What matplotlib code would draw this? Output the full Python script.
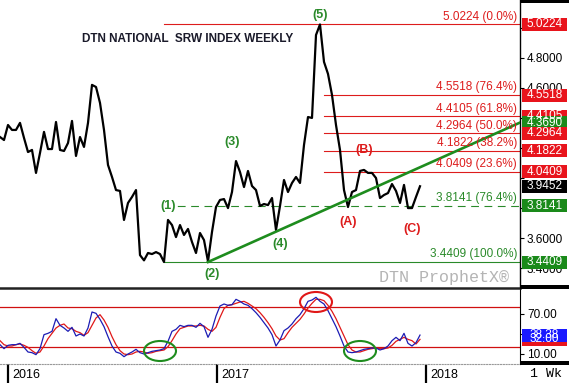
import matplotlib
matplotlib.use('Agg')
import matplotlib.pyplot as plt
import matplotlib.dates as mdates
from matplotlib.patches import Ellipse, Rectangle
import pandas as pd

plt.rcParams['font.family'] = ['Liberation Sans', 'DejaVu Sans']

# weekly close, DTN national SRW index
close = [4.273, 4.253, 4.353, 4.320, 4.320, 4.367, 4.267, 4.173, 4.187, 4.034,
         4.167, 4.307, 4.193, 4.193, 4.373, 4.187, 4.180, 4.233, 4.380, 4.147,
         4.273, 4.207, 4.367, 4.620, 4.606, 4.500, 4.320, 4.087, 4.007, 3.920,
         3.914, 3.721, 3.834, 3.874, 3.920, 3.487, 3.452, 3.501, 3.494, 3.507,
         3.494, 3.4409, 3.721, 3.687, 3.607, 3.687, 3.621, 3.661, 3.574, 3.501,
         3.634, 3.587, 3.445, 3.641, 3.807, 3.854, 3.860, 3.800, 3.907, 4.113,
         4.040, 3.940, 4.047, 3.947, 3.920, 3.814, 3.827, 3.820, 3.867, 3.654,
         3.814, 3.987, 3.907, 3.967, 4.007, 3.967, 4.220, 4.406, 4.400, 4.952,
         5.0224, 4.773, 4.693, 4.553, 4.353, 4.187, 3.920, 3.807, 3.907, 3.920,
         4.047, 4.054, 4.034, 4.034, 4.000, 3.867, 3.887, 3.900, 3.960, 3.914,
         3.834, 3.954, 3.800, 3.800, 3.874, 3.9452]

# stochastics %K (blue) and %D (red)
stoch_k = [24, 18, 23, 24, 24, 26, 20, 13, 12, 9,
           18, 39, 41, 44, 63, 53, 49, 44, 50, 37,
           40, 37, 49, 73, 71, 62, 51, 36, 22, 13,
           11, 6, 10, 13, 17, 12, 10, 12, 14, 15,
           16, 18, 29, 44, 47, 53, 51, 53, 53, 50,
           56, 51, 35, 47, 67, 82, 85, 83, 84, 92,
           89, 85, 83, 78, 72, 65, 57, 49, 39, 22,
           31, 45, 49, 55, 63, 69, 78, 89, 91, 95,
           89, 85, 75, 63, 51, 37, 22, 13, 12, 13,
           15, 17, 18, 19, 19, 16, 18, 22, 30, 35,
           30, 41, 26, 22, 27, 38.38]
stoch_d = [30, 24, 22, 22, 24, 25, 23, 20, 15, 11,
           13, 22, 33, 41, 49, 53, 55, 49, 48, 44,
           42, 38, 42, 53, 64, 69, 61, 50, 36, 24,
           15, 10, 9, 10, 13, 14, 13, 11, 12, 14,
           15, 16, 21, 30, 40, 48, 50, 52, 52, 52,
           53, 52, 47, 44, 50, 65, 78, 83, 84, 86,
           88, 89, 86, 82, 78, 72, 65, 57, 48, 37,
           31, 33, 42, 50, 56, 62, 70, 79, 86, 92,
           92, 90, 83, 74, 63, 50, 37, 24, 16, 13,
           13, 15, 17, 18, 19, 18, 18, 19, 23, 29,
           32, 35, 32, 30, 25, 32]

dates = mdates.date2num(pd.date_range('2015-12-18', periods=len(close), freq='W-FRI'))
x_end = mdates.date2num(pd.Timestamp('2018-06-15'))

fib_levels = [5.0224, 4.5518, 4.4105, 4.2964, 4.1822, 4.0409, 3.8141, 3.4409]
fib_labels = ['5.0224 (0.0%)', '4.5518 (76.4%)', '4.4105 (61.8%)', '4.2964 (50.0%)',
              '4.1822 (38.2%)', '4.0409 (23.6%)', '3.8141 (76.4%)', '3.4409 (100.0%)']
fib_start = ['2016-09-30', '2017-07-07', '2017-07-07', '2017-07-07',
             '2017-07-07', '2017-07-07', '2016-09-30', '2016-09-30']

trend_dates = ['2016-12-16', '2018-06-15']
trend_values = [3.4409, 4.3690]

wave_labels = ['(1)', '(2)', '(3)', '(4)', '(5)', '(A)', '(B)', '(C)']
wave_dates = ['2016-10-07', '2016-12-23', '2017-01-27', '2017-04-21',
              '2017-06-30', '2017-08-18', '2017-09-15', '2017-12-08']
wave_prices = [3.814, 3.36, 4.24, 3.56, 5.085, 3.705, 4.187, 3.66]

price_ticks = [3.4, 3.6, 3.8, 4.0, 4.2, 4.4, 4.6, 4.8, 5.0]
price_tick_shown = [3.4, 3.6, 4.6, 4.8]   # the rest sit under the value boxes
stoch_ticks = [10, 40, 70]
stoch_tick_shown = [10, 70]

year_ticks = ['2016-01-01', '2017-01-01', '2018-01-01']
year_labels = ['2016', '2017', '2018']

RED = '#dd1c1c'
GREEN = '#2a8a2a'


def dnum(s):
    return mdates.date2num(pd.Timestamp(s))


fig = plt.figure(figsize=(5.69, 3.83), dpi=100)
ax = fig.add_axes([0, 1 - 288 / 383, 520 / 569, 288 / 383])
ax2 = fig.add_axes([0, 1 - 364 / 383, 520 / 569, 76 / 383])

# ---- price panel
ax.plot(dates, close, color='black', lw=1.6, zorder=3)

for lvl, lab, st in zip(fib_levels, fib_labels, fib_start):
    col = GREEN if lvl < 3.9 else RED
    ls = (0, (7, 5)) if lab == '3.8141 (76.4%)' else '-'
    ax.plot([dnum(st), x_end], [lvl, lvl], color=col, lw=0.8, ls=ls, zorder=2)
    ax.annotate(lab, xy=(1, lvl), xycoords=ax.get_yaxis_transform(),
                xytext=(-2, 5.6), textcoords='offset points',
                ha='right', va='center', color=col, fontsize=8.5, zorder=4)

ax.plot([dnum(d) for d in trend_dates], trend_values, color='#1e8c1e', lw=1.9, zorder=3)

for lab, d, p in zip(wave_labels, wave_dates, wave_prices):
    col = RED if lab in ('(A)', '(B)', '(C)') else GREEN
    t = ax.text(dnum(d), p, lab, ha='center', va='center', color=col,
                fontsize=9, fontweight='bold', zorder=5)
    if lab == '(1)':
        t.set_bbox(dict(facecolor='white', edgecolor='none', pad=0.5))

ax.text(0.36, 0.865, 'DTN NATIONAL  SRW INDEX WEEKLY', transform=ax.transAxes,
        ha='center', va='center', fontsize=8.5, fontweight='bold', color='#1a1a2a')
ax.text(0.854, 0.035, 'DTN ProphetX\u00ae', transform=ax.transAxes, ha='center',
        va='center', fontsize=12, color='#b4b4b4', family=['Liberation Mono', 'DejaVu Sans Mono'])

ax.set_xlim(dates[0], x_end)
ax.set_ylim(3.268, 5.185)
ax.set_yticks(price_ticks)
ax.set_yticklabels(['%.4f' % v if v in price_tick_shown else '' for v in price_ticks])
ax.yaxis.tick_right()
ax.tick_params(axis='y', length=3, width=0.8, pad=2, labelsize=8.5)
ax.tick_params(axis='x', bottom=False, labelbottom=False)
for s in ('left', 'top', 'bottom'):
    ax.spines[s].set_visible(False)
ax.spines['right'].set_linewidth(1)

# right-hand value boxes
box_values = [5.0224, 4.5518, 4.4105, 4.3690, 4.2964, 4.1822, 4.0409, 3.9452, 3.8141, 3.4409]
box_colors = ['#e8141c', '#e8141c', '#e8141c', '#1a8a1a', '#e8141c', '#e8141c',
              '#e8141c', 'black', '#1a8a1a', '#1a8a1a']
tr = ax.get_yaxis_transform()
bh = 13 * (5.185 - 3.268) / 288
for v, c in zip(box_values, box_colors):
    ax.add_patch(Rectangle((1.003, v - bh / 2), 0.088, bh, transform=tr,
                           facecolor=c, edgecolor='none', clip_on=False, zorder=6))
    ax.text(1.047, v, '%.4f' % v, transform=tr, ha='center', va='center',
            color='white', fontsize=8.5, zorder=7, clip_on=False)

# ---- stochastic panel
ax2.plot(dates, stoch_d, color='#e01818', lw=0.9, zorder=3)
ax2.plot(dates, stoch_k, color='#1c1cb4', lw=0.9, zorder=3)
ax2.axhline(80, color='#d01010', lw=0.9, zorder=2)
ax2.axhline(20, color='#d01010', lw=0.9, zorder=2)

for d, v, c in [('2016-09-23', 14.5, '#1e8c1e'), ('2017-09-08', 14.5, '#1e8c1e'),
                ('2017-06-23', 88, '#e01818')]:
    ax2.add_patch(Ellipse((dnum(d), v), 56, 30,
                          fill=False, edgecolor=c, lw=1.5, zorder=4))

ax2.set_xlim(dates[0], x_end)
ax2.set_ylim(-5, 109)
ax2.set_yticks(stoch_ticks)
ax2.set_yticklabels(['%.2f' % v if v in stoch_tick_shown else '' for v in stoch_ticks])
ax2.yaxis.tick_right()
ax2.tick_params(axis='y', length=3, width=0.8, pad=2, labelsize=8.5)
ax2.spines['left'].set_visible(False)
ax2.spines['top'].set_linewidth(1.8)
ax2.spines['top'].set_color('#222222')
ax2.spines['bottom'].set_linestyle((0, (1, 1.5)))
ax2.spines['bottom'].set_color('#999999')

tr2 = ax2.get_yaxis_transform()
bh2 = 13 * 114 / 76
for v, c in [(stoch_d[-1], '#e8141c'), (stoch_k[-1], '#1a1aff')]:
    ax2.add_patch(Rectangle((1.003, v - bh2 / 2), 0.088, bh2, transform=tr2,
                            facecolor=c, edgecolor='none', clip_on=False, zorder=6))
    ax2.text(1.047, v, '%.2f' % v, transform=tr2, ha='center', va='center',
             color='white', fontsize=8.5, zorder=7, clip_on=False)

yt = [dnum(d) for d in year_ticks]
ax2.set_xticks(yt)
ax2.set_xticklabels([])
ax2.tick_params(axis='x', length=14, width=1.6, direction='out', color='black')
for d, lab in zip(yt, year_labels):
    ax2.annotate(lab, xy=(d, 0), xycoords=ax2.get_xaxis_transform(),
                 xytext=(3, -8), textcoords='offset points', ha='left', va='center',
                 fontsize=9, annotation_clip=False)

fig.text(546 / 569, 1 - 374 / 383, '1 Wk', ha='center', va='center', fontsize=9.5,
         family=['Liberation Mono', 'DejaVu Sans Mono'])

# black bars on the price scale column
for y0, h in [(0, 3), (285, 4), (361, 4)]:
    fig.patches.append(Rectangle((520 / 569, 1 - (y0 + h) / 383), 49 / 569, h / 383,
                                 transform=fig.transFigure, facecolor='black',
                                 edgecolor='none'))

fig.savefig('out.png', dpi=100)
